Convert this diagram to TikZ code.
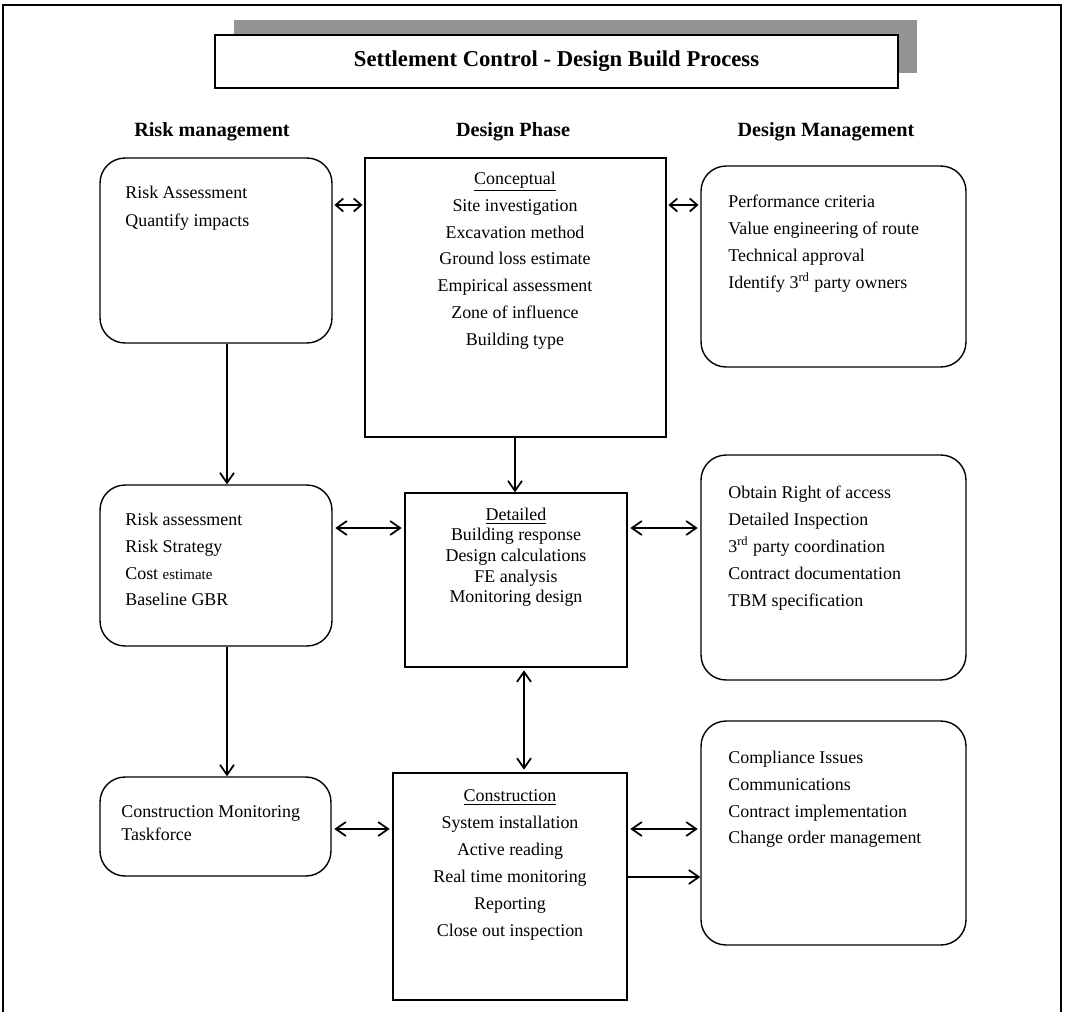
\documentclass[tikz,border=0pt]{standalone}
\usepackage{fontspec}
\setmainfont{Liberation Serif}
\usetikzlibrary{arrows.meta,shadows}
\tikzstyle{line} = [draw, line width=1pt, -{Straight Barb[length=2mm,width=2.8mm]}]
\tikzstyle{dline} = [line, {Straight Barb[length=2mm,width=2.8mm]}-{Straight Barb[length=2mm,width=2.8mm]}, shorten <=1.5pt, shorten >=1.5pt]
\tikzstyle{sdline} = [draw, line width=1pt, {Straight Barb[length=1.5mm,width=2.6mm]}-{Straight Barb[length=1.5mm,width=2.6mm]}, shorten <=1pt, shorten >=1pt]
\tikzstyle{block} = [draw, rectangle, line width=0.8pt]
\tikzstyle{cloud} = [draw, rectangle, rounded corners=0.5cm, line width=0.8pt]
\tikzstyle{txt} = [inner sep=0pt, font=\fontsize{10.2}{15.3}\selectfont]
\tikzstyle{head} = [font=\bfseries\fontsize{11.5}{13}\selectfont]

\begin{document}
\begin{tikzpicture}[x=0.02cm, y=-0.02cm]
        \useasboundingbox (0,0) rectangle (1065,1012);
        % frame (open at the bottom)
        \draw[line width=0.8pt] (3,1012) -- (3,5) -- (1061,5) -- (1061,1012);
        % title
        \node[draw, line width=0.8pt, fill=white, minimum width=13.66cm, minimum height=1.06cm,
              drop shadow={shadow xshift=0.38cm, shadow yshift=0.3cm, fill=black!42, opacity=1}]
              (title) at (556.5,61.5) {\bfseries\fontsize{12.9}{14}\selectfont Settlement Control - Design Build Process};
        % column heads
        \node[head] (hrisk) at (212,132) {Risk management};
        \node[head] (hphase) at (513,132) {Design Phase};
        \node[head] (hmgmt) at (826,132) {Design Management};
        % first row
        \node[cloud, minimum width=4.64cm, minimum height=3.7cm] (risk1) at (216,250.5) {};
        \node[txt, anchor=north west, align=left] (risk1t) at (125,185.5) {Risk Assessment\\[1pt]Quantify impacts};
        \node[block, minimum width=6.02cm, minimum height=5.58cm] (concept) at (515.5,297.5) {};
        \node[txt, anchor=north, align=center] (conceptt) at (515,171.5) {\underline{Conceptual}\\Site investigation\\Excavation method\\Ground loss estimate\\Empirical assessment\\Zone of influence\\Building type};
        \node[cloud, minimum width=5.3cm, minimum height=4.02cm] (mgmt1) at (833.5,266.5) {};
        \node[txt, anchor=north west, align=left] (mgmt1t) at (728,194.5) {Performance criteria\\Value engineering of route\\Technical approval\\Identify 3\textsuperscript{rd} party owners};
        % second row
        \node[cloud, minimum width=4.64cm, minimum height=3.22cm] (risk2) at (216,565.5) {};
        \node[txt, anchor=north west, align=left] (risk2t) at (125,512.5) {Risk assessment\\Risk Strategy\\Cost {\fontsize{8.5}{10}\selectfont estimate}\\Baseline GBR};
        \node[block, minimum width=4.44cm, minimum height=3.48cm] (detail) at (516,580) {};
        \node[txt, anchor=north, align=center, font=\fontsize{10.2}{11.76}\selectfont] (detailt) at (516,507.5) {\underline{Detailed}\\Building response\\Design calculations\\FE analysis\\Monitoring design};
        \node[cloud, minimum width=5.3cm, minimum height=4.5cm] (mgmt2) at (833.5,567.5) {};
        \node[txt, anchor=north west, align=left] (mgmt2t) at (728,485.5) {Obtain Right of access\\Detailed Inspection\\3\textsuperscript{rd} party coordination\\Contract documentation\\TBM specification};
        % third row
        \node[cloud, minimum width=4.62cm, minimum height=1.98cm] (risk3) at (215.5,826.5) {};
        \node[txt, anchor=north west, align=left, font=\fontsize{10.2}{13}\selectfont] (risk3t) at (121,805.5) {Construction Monitoring\\Taskforce};
        \node[block, minimum width=4.68cm, minimum height=4.54cm] (constr) at (510,886.5) {};
        \node[txt, anchor=north, align=center] (constrt) at (510,789.5) {\underline{Construction}\\System installation\\Active reading\\Real time monitoring\\Reporting\\Close out inspection};
        \node[cloud, minimum width=5.3cm, minimum height=4.48cm] (mgmt3) at (833.5,833) {};
        \node[txt, anchor=north west, align=left] (mgmt3t) at (728,750.5) {Compliance Issues\\Communications\\Contract implementation\\Change order management};
        % connectors
        \path[sdline] (risk1.east |- 0,205) -- (concept.west |- 0,205);
        \path[sdline] (concept.east |- 0,205) -- (mgmt1.west |- 0,205);
        \path[line] (risk1.south -| 227,0) -- (risk2.north -| 227,0);
        \path[line] (concept.south -| 515,0) -- (detail.north -| 515,0);
        \path[dline] (risk2.east |- 0,528) -- (detail.west |- 0,528);
        \path[dline] (detail.east |- 0,528) -- (mgmt2.west |- 0,528);
        \path[line] (risk2.south -| 227,0) -- (risk3.north -| 227,0);
        \path[dline] (detail.south -| 524,0) -- (constr.north -| 524,0);
        \path[dline] (risk3.east |- 0,829) -- (constr.west |- 0,829);
        \path[dline] (constr.east |- 0,829) -- (mgmt3.west |- 0,829);
        \path[line] (constr.east |- 0,877) -- (mgmt3.west |- 0,877);
\end{tikzpicture}
\end{document}
